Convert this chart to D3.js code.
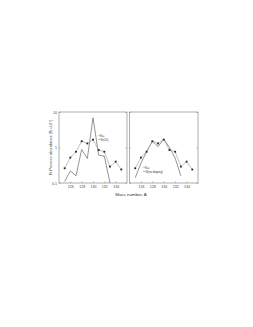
<!DOCTYPE html>
<html>
<head>
<meta charset="utf-8">
<title>R-process abundances</title>
<script src="https://cdn.jsdelivr.net/npm/d3@7"></script>
<style>
  body { margin: 0; background: #fff; }
  text { font-family: "Liberation Sans", Arial, sans-serif; fill: #333; }
</style>
</head>
<body>
<div id="chart"></div>
<script>
// mass numbers
var massNumbers = [125, 126, 127, 128, 129, 130, 131, 132, 133, 134, 135];
// solar r-process abundances (points)
var solarValues = [0.26, 0.52, 0.76, 1.5, 1.3, 1.67, 0.85, 0.76, 0.29, 0.4, 0.24];
// model curve, left panel
var modelLeftA = [125, 126, 127, 128, 129, 130, 131, 132, 133];
var modelLeft = [0.11, 0.22, 0.16, 0.88, 0.49, 6.9, 0.61, 0.57, 0.1];
// model curve, right panel (no dripping)
var modelRightA = [125, 126, 127, 128, 129, 130, 131, 132, 133];
var modelRight = [0.14, 0.36, 0.77, 1.5, 1.06, 1.74, 1.0, 0.5, 0.16];
var xTicks = [126, 128, 130, 132, 134];
var yTicks = [0.1, 1, 10];
var yTickLabels = ["0.1", "1", "10"];

var width = 253, height = 327;
var svg = d3.select("#chart").append("svg").attr("width", width).attr("height", height);

var plotTop = 112, plotBottom = 183;
var y = d3.scaleLog().domain([0.1, 10]).range([plotBottom, plotTop]);

function panel(x0, x1, modelA, modelV, legend, showY) {
  var x = d3.scaleLinear().domain([124, 136]).range([x0, x1]);
  var g = svg.append("g");

  g.append("rect").attr("x", x0).attr("y", plotTop).attr("width", x1 - x0).attr("height", plotBottom - plotTop)
    .attr("fill", "none").attr("stroke", "#777").attr("stroke-width", 0.6);

  var xAxis = d3.axisBottom(x).tickValues(xTicks).tickSize(-1.5).tickPadding(2);
  var gx = g.append("g").attr("transform", "translate(0," + plotBottom + ")").call(xAxis);
  gx.select(".domain").remove();
  gx.selectAll("line").attr("stroke", "#777").attr("stroke-width", 0.5);
  gx.selectAll("text").attr("font-size", 3.6).style("fill", "#444");

  var yAxis = d3.axisLeft(y).tickValues(yTicks).tickSize(-1.5).tickPadding(2)
    .tickFormat(function (d, i) { return showY ? yTickLabels[i] : ""; });
  var gy = g.append("g").attr("transform", "translate(" + x0 + ",0)").call(yAxis);
  gy.select(".domain").remove();
  gy.selectAll("line").attr("stroke", "#777").attr("stroke-width", 0.5);
  gy.selectAll("text").attr("font-size", 3.6).style("fill", "#444");

  var gy2 = g.append("g").attr("transform", "translate(" + x1 + ",0)")
    .call(d3.axisRight(y).tickValues(yTicks).tickSize(-1.5).tickFormat(""));
  gy2.select(".domain").remove();
  gy2.selectAll("line").attr("stroke", "#777").attr("stroke-width", 0.5);

  var clipId = "clip" + Math.round(x0);
  g.append("clipPath").attr("id", clipId).append("rect")
    .attr("x", x0).attr("y", plotTop).attr("width", x1 - x0).attr("height", plotBottom - plotTop);

  var line = d3.line().x(function (d) { return x(d[0]); }).y(function (d) { return y(d[1]); });
  var solar = massNumbers.map(function (a, i) { return [a, solarValues[i]]; });
  var model = modelA.map(function (a, i) { return [a, modelV[i]]; });

  g.append("path").datum(model).attr("d", line).attr("clip-path", "url(#" + clipId + ")")
    .attr("fill", "none").attr("stroke", "#666").attr("stroke-width", 0.7);
  g.append("path").datum(solar).attr("d", line)
    .attr("fill", "none").attr("stroke", "#999").attr("stroke-width", 0.6);
  g.selectAll("rect.pt").data(solar).enter().append("rect").attr("class", "pt")
    .attr("x", function (d) { return x(d[0]) - 0.9; })
    .attr("y", function (d) { return y(d[1]) - 0.9; })
    .attr("width", 1.8).attr("height", 1.8).attr("fill", "#222");

  // legend
  var lg = g.append("g").attr("transform", "translate(" + legend[0] + "," + legend[1] + ")");
  lg.append("line").attr("x1", -1).attr("x2", 1).attr("y1", -1).attr("y2", -1)
    .attr("stroke", "#999").attr("stroke-width", 0.5);
  lg.append("text").attr("x", 1).attr("y", 0).attr("font-size", 2.6).text("N\u2299");
  lg.append("line").attr("x1", -1).attr("x2", 1).attr("y1", 3).attr("y2", 3)
    .attr("stroke", "#666").attr("stroke-width", 0.5);
  lg.append("text").attr("x", 1.5).attr("y", 4).attr("font-size", 2.6).text(legend[2]);
}

panel(59, 127, modelLeftA, modelLeft, [99, 136.5, "Nr(Ch)"], true);
panel(129.5, 198, modelRightA, modelRight, [144, 168.5, "Nr(no dripping)"], false);

svg.append("text").attr("transform", "translate(52," + ((plotTop + plotBottom) / 2) + ") rotate(-90)")
  .attr("text-anchor", "middle").attr("font-size", 4).style("fill", "#444")
  .text("R-Process abundance [Si=10\u2076]");

svg.append("text").attr("x", 131).attr("y", 196).attr("text-anchor", "middle")
  .attr("font-size", 4.4).style("fill", "#333").text("Mass number, A");
</script>
</body>
</html>
